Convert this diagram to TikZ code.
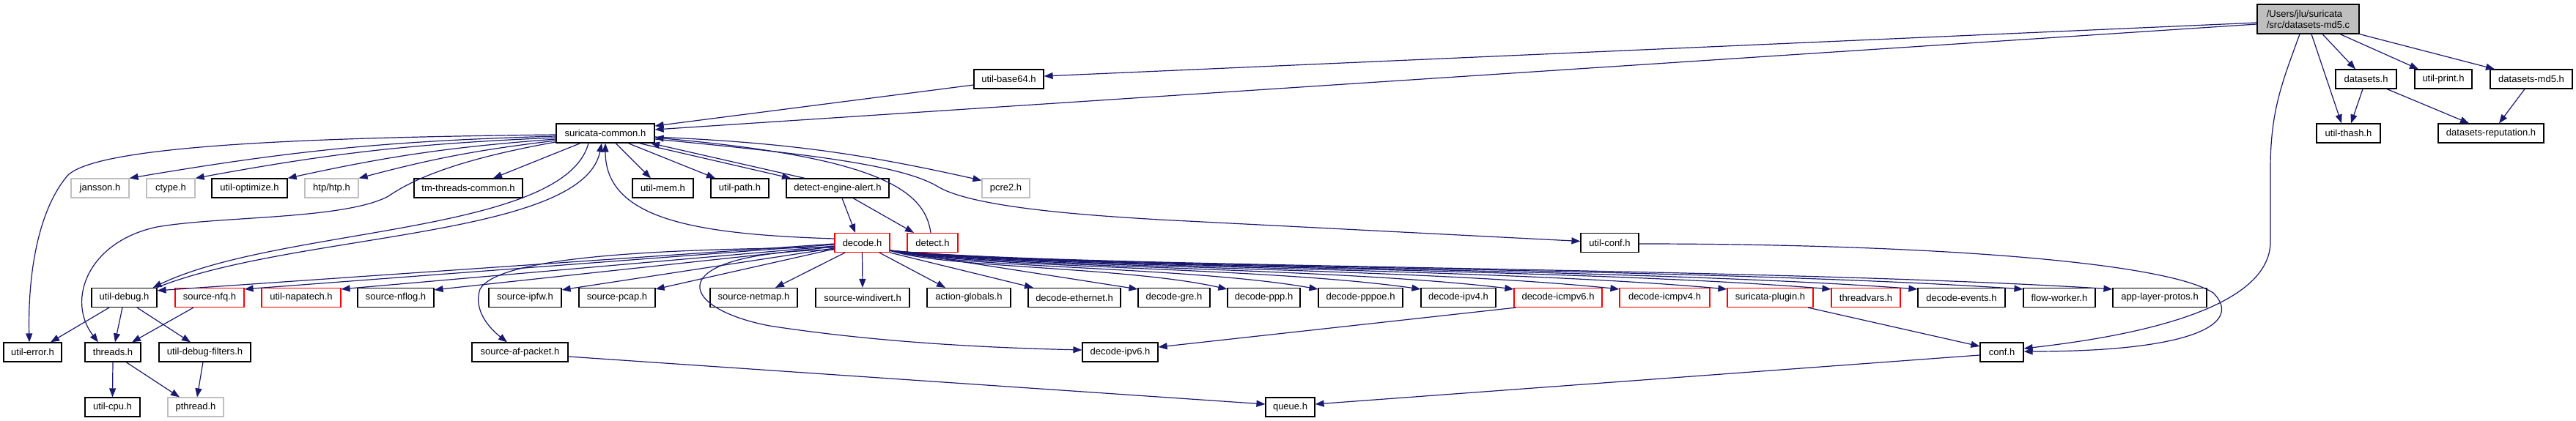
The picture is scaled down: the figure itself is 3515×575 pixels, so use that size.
\documentclass[tikz,border=0pt]{standalone}
\usepackage{fontspec}
\setmainfont{Liberation Sans}
\usetikzlibrary{arrows.meta}
\definecolor{edgeblue}{HTML}{191970}
\definecolor{nodegray}{HTML}{BFBFBF}
\begin{document}
\begin{tikzpicture}[x=1pt,y=-1pt,
  box/.style={draw=black, line width=1.2pt, rectangle, minimum height=26pt, inner sep=0pt, font=\fontsize{13}{15}\selectfont, fill=white},
  redbox/.style={box, draw=red},
  graybox/.style={box, draw=nodegray},
  edge/.style={draw=edgeblue, line width=1.2pt, -{Triangle[length=12pt,width=9pt]}},
]
\useasboundingbox (0,0) rectangle (3515,575);
% row 0
\node[box, fill=nodegray, minimum width=139pt, minimum height=40pt, align=left] (top) at (3149.5,26) {/Users/jlu/suricata\\/src/datasets-md5.c};
% row 1
\node[box, minimum width=95pt] (utilb64) at (1376.5,108) {util-base64.h};
\node[box, minimum width=83pt] (datasets) at (3228.5,108) {datasets.h};
\node[box, minimum width=78pt] (utilprint) at (3334,108) {util-print.h};
\node[box, minimum width=112pt] (dsmd5) at (3454,108) {datasets-md5.h};
% row 2
\node[box, minimum width=134pt] (sc) at (826,182) {suricata-common.h};
\node[box, minimum width=87pt] (thash) at (3204.5,182) {util-thash.h};
\node[box, minimum width=144pt] (dsrep) at (3399,182) {datasets-reputation.h};
% row 3
\node[graybox, minimum width=79pt] (jansson) at (136.5,257) {jansson.h};
\node[graybox, minimum width=66pt] (ctype) at (233,257) {ctype.h};
\node[box, minimum width=103pt] (utilopt) at (340.5,257) {util-optimize.h};
\node[graybox, minimum width=73pt] (htp) at (452.5,257) {htp/htp.h};
\node[box, minimum width=148pt] (tm) at (639,257) {tm-threads-common.h};
\node[box, minimum width=83pt] (utilmem) at (904.5,257) {util-mem.h};
\node[box, minimum width=79pt] (utilpath) at (1009.5,257) {util-path.h};
\node[box, minimum width=140pt] (dea) at (1143,257) {detect-engine-alert.h};
\node[graybox, minimum width=65pt] (pcre2) at (1372.5,257) {pcre2.h};
% row 4
\node[redbox, minimum width=75pt] (decode) at (1176.5,331.5) {decode.h};
\node[redbox, minimum width=69pt] (detect) at (1272.5,331.5) {detect.h};
\node[box, minimum width=79pt] (utilconf) at (2196.5,331.5) {util-conf.h};
% row 5
\node[box, minimum width=89pt] (ud) at (169.5,406.5) {util-debug.h};
\node[redbox, minimum width=94pt] (nfq) at (286,406.5) {source-nfq.h};
\node[redbox, minimum width=108pt] (napatech) at (411,406.5) {util-napatech.h};
\node[box, minimum width=104pt] (nflog) at (540,406.5) {source-nflog.h};
\node[box, minimum width=99pt] (ipfw) at (716.5,406.5) {source-ipfw.h};
\node[box, minimum width=104pt] (pcap) at (842,406.5) {source-pcap.h};
\node[box, minimum width=119pt] (netmap) at (1028.5,406.5) {source-netmap.h};
\node[box, minimum width=128pt] (windivert) at (1177,406.5) {source-windivert.h};
\node[box, minimum width=114pt] (ag) at (1322,406.5) {action-globals.h};
\node[box, minimum width=126pt] (eth) at (1466,406.5) {decode-ethernet.h};
\node[box, minimum width=98pt] (gre) at (1602,406.5) {decode-gre.h};
\node[box, minimum width=99pt] (ppp) at (1724.5,406.5) {decode-ppp.h};
\node[box, minimum width=115pt] (pppoe) at (1856.5,406.5) {decode-pppoe.h};
\node[box, minimum width=102pt] (ipv4) at (1990,406.5) {decode-ipv4.h};
\node[redbox, minimum width=120pt] (icmpv6) at (2126,406.5) {decode-icmpv6.h};
\node[redbox, minimum width=123pt] (icmpv4) at (2271.5,406.5) {decode-icmpv4.h};
\node[redbox, minimum width=117pt] (plugin) at (2415.5,406.5) {suricata-plugin.h};
\node[redbox, minimum width=94pt] (threadvars) at (2546,406.5) {threadvars.h};
\node[box, minimum width=119pt] (events) at (2676.5,406.5) {decode-events.h};
\node[box, minimum width=98pt] (flowworker) at (2810,406.5) {flow-worker.h};
\node[box, minimum width=128pt] (applayer) at (2947,406.5) {app-layer-protos.h};
% row 6
\node[box, minimum width=79pt] (utilerror) at (44.5,481) {util-error.h};
\node[box, minimum width=76pt] (threads) at (154,481) {threads.h};
\node[box, minimum width=125pt] (udf) at (279.5,481) {util-debug-filters.h};
\node[box, minimum width=131pt] (afp) at (709.5,481) {source-af-packet.h};
\node[box, minimum width=103pt] (ipv6) at (1528.5,481) {decode-ipv6.h};
\node[box, minimum width=59pt] (conf) at (2731.5,481) {conf.h};
% row 7
\node[box, minimum width=75pt] (utilcpu) at (153.5,556) {util-cpu.h};
\node[graybox, minimum width=76pt] (pthread) at (267,556) {pthread.h};
\node[box, minimum width=67pt] (queue) at (1760.5,556) {queue.h};

% edges from top file
\draw[edge] ([yshift=-5pt]top.west) -- ([yshift=4pt]utilb64.east);
\draw[edge] ([yshift=-7pt]top.west) -- ([yshift=5pt]sc.east);
\draw[edge] ([yshift=-8pt]utilb64.west) -- ([yshift=10pt]sc.east);
\draw[edge] ([xshift=19.5pt]top.south) -- ([xshift=-14.5pt]datasets.north);
\draw[edge] ([xshift=43.5pt]top.south) -- ([xshift=-34pt]utilprint.north);
\draw[edge] (top.south east) -- ([xshift=-50pt]dsmd5.north);
\draw[edge] ([xshift=4.5pt]top.south) -- ([xshift=-9.5pt]thash.north);
\draw[edge] ([xshift=-11.5pt]top.south) .. controls (3115,110) and (3098,150) .. (3098,230) -- (3098,330) .. controls (3098,400) and (2990,450) .. ([yshift=5pt]conf.east);
\draw[edge] ([xshift=-4.5pt]datasets.south) -- ([xshift=3.5pt]thash.north);
\draw[edge] ([xshift=28.5pt]datasets.south) -- ([xshift=-30pt]dsrep.north);
\draw[edge] ([xshift=-9pt]dsmd5.south) -- ([xshift=11pt]dsrep.north);

% suricata-common
\draw[edge] ([yshift=-2pt]sc.west) .. controls (400,188) and (130,200) .. (92,240) .. controls (50,290) and (38,380) .. ([xshift=-4.5pt]utilerror.north);
\draw[edge] ([yshift=-4pt]sc.west) to[bend right=4] (jansson.north east);
\draw[edge] ([yshift=-6pt]sc.west) to[bend right=4] (ctype.north east);
\draw[edge] ([yshift=-8pt]sc.west) to[bend right=4] (utilopt.north east);
\draw[edge] ([yshift=-10pt]sc.west) to[bend right=4] (htp.north east);
\draw[edge] ([yshift=-12pt]sc.west) .. controls (640,215) and (570,240) .. (530,268) .. controls (470,300) and (300,295) .. (214,310) .. controls (120,330) and (90,410) .. ([xshift=-20pt]threads.north);
\draw[edge] ([xshift=-34pt]sc.south) -- ([xshift=34pt]tm.north);
\draw[edge] ([xshift=14pt]sc.south) -- ([xshift=-16.5pt]utilmem.north);
\draw[edge] ([xshift=31pt]sc.south) -- ([xshift=-33.5pt]utilpath.north);
\draw[edge] ([xshift=46pt]sc.south) -- ([xshift=-64pt]dea.north);
\draw[edge] ([xshift=-45pt]dea.north) -- ([xshift=62pt]sc.south);
\draw[edge] ([yshift=-5pt]sc.east) to[bend left=5] ([yshift=-3pt]pcre2.north west);
\draw[edge] ([yshift=-8pt]sc.east) .. controls (1100,210) and (1230,225) .. (1280,255) .. controls (1330,285) and (1500,295) .. (1582,300) -- ([yshift=2pt]utilconf.west);
\draw[edge] ([xshift=-23pt]sc.south) .. controls (770,320) and (380,310) .. ([xshift=-6pt]ud.north east);
\draw[edge] ([xshift=-1pt]ud.north east) .. controls (400,318) and (795,325) .. ([xshift=-5pt]sc.south);
\draw[edge] ([yshift=5.5pt]decode.west) .. controls (950,320) and (826,300) .. (sc.south);
\draw[edge] ([xshift=-2.5pt]detect.north) .. controls (1262,260) and (1200,215) .. ([yshift=-6pt]sc.east);
\draw[edge] ([xshift=6pt]dea.south) -- ([xshift=-9.5pt]decode.north);
\draw[edge] ([xshift=21pt]dea.south) -- ([xshift=-25.5pt]detect.north);

% decode.h to the left
\draw[edge] ([yshift=-1.5pt]decode.west) -- ([yshift=-4pt]ud.north east);
\draw[edge] ([yshift=-2.5pt]decode.west) -- ([yshift=-2pt]nfq.north east);
\draw[edge] ([yshift=-4.5pt]decode.west) -- ([yshift=-2pt]napatech.north east);
\draw[edge] ([yshift=-5.5pt]decode.west) -- ([yshift=-3pt]nflog.north east);
\draw[edge] ([yshift=-6.5pt]decode.west) .. controls (900,340) and (680,350) .. (655,395) .. controls (645,425) and (670,450) .. ([xshift=-17.5pt]afp.north);
\draw[edge] ([yshift=-7.5pt]decode.west) -- ([yshift=-3pt]ipfw.north east);
\draw[edge] ([yshift=-8.5pt]decode.west) -- ([yshift=-2pt]pcap.north east);
\draw[edge] ([yshift=-9.5pt]decode.west) .. controls (900,345) and (920,420) .. (1050,445) .. controls (1200,468) and (1350,475) .. ([yshift=3pt]ipv6.west);
\draw[edge] ([xshift=-23.5pt]decode.south) -- ([xshift=29.5pt]netmap.north);
\draw[edge] (decode.south) -- (windivert.north);
\draw[edge] ([xshift=23.5pt]decode.south) -- ([xshift=-32pt]ag.north);
\draw[edge] (decode.south east) -- ([xshift=-56pt]eth.north);
\draw[edge] ([yshift=3pt]decode.south east) -- ([yshift=-2pt]gre.north west);
% decode.h to the right (bundle)
\draw[edge] ([yshift=3pt]decode.south east) .. controls (1283,366) and (1537,364) .. ([yshift=-2pt]ppp.north west);
\draw[edge] ([yshift=3pt]decode.south east) .. controls (1302,366) and (1623,364) .. ([yshift=-2pt]pppoe.north west);
\draw[edge] ([yshift=3pt]decode.south east) .. controls (1323,366) and (1721,364) .. ([yshift=-2pt]ipv4.north west);
\draw[edge] ([yshift=3pt]decode.south east) .. controls (1342,366) and (1810,364) .. ([yshift=-2pt]icmpv6.north west);
\draw[edge] ([yshift=3pt]decode.south east) .. controls (1363,366) and (1911,364) .. ([yshift=-2pt]icmpv4.north west);
\draw[edge] ([yshift=3pt]decode.south east) .. controls (1385,366) and (2014,364) .. ([yshift=-2pt]plugin.north west);
\draw[edge] ([yshift=3pt]decode.south east) .. controls (1407,366) and (2113,364) .. ([yshift=-2pt]threadvars.north west);
\draw[edge] ([yshift=3pt]decode.south east) .. controls (1424,366) and (2196,364) .. ([yshift=-2pt]events.north west);
\draw[edge] ([yshift=3pt]decode.south east) .. controls (1446,366) and (2297,364) .. ([yshift=-2pt]flowworker.north west);
\draw[edge] ([yshift=3pt]decode.south east) .. controls (1464,366) and (2382,364) .. ([yshift=-2pt]applayer.north west);

% lower edges
\draw[edge] ([xshift=3pt]icmpv6.south west) -- ([yshift=7pt]ipv6.east);
\draw[edge] ([xshift=-20.5pt]ud.south) -- ([xshift=24.5pt]utilerror.north);
\draw[edge] ([xshift=-2.5pt]ud.south) -- ([xshift=3pt]threads.north);
\draw[edge] ([xshift=17.5pt]ud.south) -- ([xshift=-19.5pt]udf.north);
\draw[edge] ([xshift=-22pt]nfq.south) -- ([xshift=26pt]threads.north);
\draw[edge] (threads.south) -- (utilcpu.north);
\draw[edge] ([xshift=18pt]threads.south) -- ([xshift=-22pt]pthread.north);
\draw[edge] ([xshift=-2.5pt]udf.south) -- ([xshift=2pt]pthread.north);
\draw[edge] ([yshift=-6pt]afp.east) -- ([yshift=4pt]queue.west);
\draw[edge] ([yshift=-4pt]conf.west) -- ([yshift=4pt]queue.east);
\draw[edge] ([xshift=51.5pt]plugin.south) -- ([yshift=8pt]conf.west);
\draw[edge] ([yshift=-1.5pt]utilconf.east) .. controls (2600,333) and (2950,355) .. (3020,400) .. controls (3060,440) and (3000,480) .. ([yshift=1pt]conf.east);
\end{tikzpicture}
\end{document}
